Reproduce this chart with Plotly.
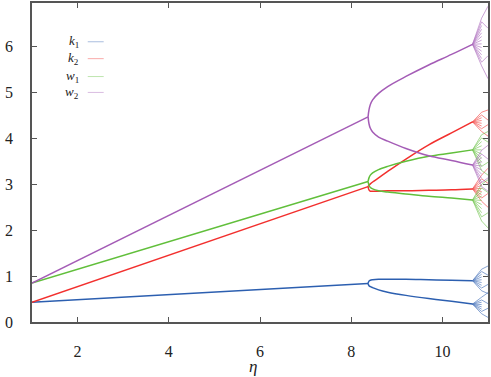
import plotly.graph_objects as go

# ---- data ----
eta_lin = [1.0, 8.37]
k1_lin = [0.43, 0.84]
k2_lin = [0.43, 2.95]
w1_lin = [0.85, 3.06]
w2_lin = [0.85, 4.47]

eta_br = [8.37, 8.39, 8.42, 8.47, 8.6, 8.8, 9.2, 9.7, 10.2, 10.66]
k1_up = [0.84, 0.89, 0.91, 0.92, 0.93, 0.93, 0.93, 0.92, 0.91, 0.90]
k1_lo = [0.84, 0.79, 0.77, 0.75, 0.70, 0.65, 0.58, 0.51, 0.45, 0.39]
k2_up = [2.95, 2.98, 3.01, 3.05, 3.14, 3.28, 3.55, 3.86, 4.12, 4.36]
k2_lo = [2.95, 2.88, 2.85, 2.85, 2.85, 2.86, 2.86, 2.87, 2.88, 2.90]
w1_up = [3.06, 3.14, 3.20, 3.25, 3.32, 3.39, 3.50, 3.61, 3.68, 3.75]
w1_lo = [3.06, 2.98, 2.93, 2.90, 2.86, 2.83, 2.79, 2.74, 2.70, 2.66]
w2_up = [4.47, 4.62, 4.74, 4.84, 4.98, 5.13, 5.35, 5.60, 5.83, 6.05]
w2_lo = [4.47, 4.32, 4.22, 4.14, 4.03, 3.94, 3.78, 3.62, 3.52, 3.42]

# chaotic fans: spokes from the vertex (eta 10.66) out to eta 10.86
eta_fan = [10.66, 10.86]
k1_fan_up = [0.68, 0.74, 0.80, 0.86, 0.92, 0.98, 1.04, 1.10, 1.15]
k1_fan_lo = [0.18, 0.23, 0.28, 0.33, 0.38, 0.43, 0.48, 0.54]
k2_fan_up = [4.15, 4.21, 4.27, 4.33, 4.39, 4.45, 4.51, 4.57]
k2_fan_lo = [2.63, 2.70, 2.77, 2.84, 2.91, 2.98, 3.05, 3.12, 3.20]
w1_fan_up = [3.30, 3.39, 3.48, 3.57, 3.66, 3.75, 3.84, 3.93, 4.01, 4.08]
w1_fan_lo = [2.20, 2.29, 2.38, 2.47, 2.56, 2.65, 2.74, 2.83, 2.92, 3.00]
w2_fan_up = [5.58, 5.66, 5.74, 5.82, 5.90, 5.98, 6.06, 6.14, 6.22, 6.30,
             6.38, 6.46, 6.54, 6.62]
w2_fan_lo = [2.95, 3.04, 3.13, 3.22, 3.31, 3.40, 3.49, 3.58, 3.66, 3.74]

# short tails from the fan rims to the right edge
eta_tail = [10.86, 11.0]
k1_tail = [(1.15, 1.22), (1.10, 1.02), (0.68, 0.62), (0.74, 0.82),
           (0.54, 0.64), (0.48, 0.40), (0.18, 0.10), (0.23, 0.30)]
k2_tail = [(4.57, 4.62), (4.51, 4.40), (4.15, 4.05), (4.21, 4.30),
           (3.20, 3.35), (3.12, 3.02), (2.63, 2.50), (2.70, 2.80)]
w1_tail = [(4.08, 4.15), (4.01, 3.92), (3.30, 3.20), (3.39, 3.48),
           (3.00, 3.10), (2.92, 2.82), (2.20, 2.05), (2.29, 2.38)]
w2_tail = [(6.62, 6.88), (6.54, 6.40), (5.58, 5.30), (5.66, 5.80),
           (3.74, 3.85), (3.66, 3.55), (2.95, 2.85), (3.04, 3.14)]

names = ["<i>k</i><sub>1</sub>", "<i>k</i><sub>2</sub>",
         "<i>w</i><sub>1</sub>", "<i>w</i><sub>2</sub>"]
colors = ["#2c5fb0", "#f2302e", "#61bf3b", "#a45cb6"]

FONT = "Liberation Serif, Times New Roman, Times, serif"

series = [
    (k1_lin, k1_up, k1_lo, k1_fan_up, k1_fan_lo, k1_tail),
    (k2_lin, k2_up, k2_lo, k2_fan_up, k2_fan_lo, k2_tail),
    (w1_lin, w1_up, w1_lo, w1_fan_up, w1_fan_lo, w1_tail),
    (w2_lin, w2_up, w2_lo, w2_fan_up, w2_fan_lo, w2_tail),
]

fig = go.Figure()
for (lin, up, lo, fup, flo, tail), col, nm in zip(series, colors, names):
    fig.add_trace(go.Scatter(x=eta_lin, y=lin, mode="lines",
                             line=dict(color=col, width=1.5), showlegend=False))
    for br in (up, lo):
        fig.add_trace(go.Scatter(x=eta_br, y=br, mode="lines",
                                 line=dict(color=col, width=1.5, shape="spline"),
                                 showlegend=False))
    fx, fy = [], []
    for v0, ends in ((up[-1], fup), (lo[-1], flo)):
        for e in ends:
            fx += [eta_fan[0], eta_fan[1], None]
            fy += [v0, e, None]
    for a, b in tail:
        fx += [eta_tail[0], eta_tail[1], None]
        fy += [a, b, None]
    fig.add_trace(go.Scatter(x=fx, y=fy, mode="lines",
                             line=dict(color=col, width=0.7),
                             opacity=0.8, showlegend=False))

# legend drawn gnuplot style: text then sample line
leg_y = [40, 57, 75, 91]
for nm, col, yp in zip(names, colors, leg_y):
    yy = (322 - yp) / 321
    fig.add_annotation(x=(81 - 32) / 458, y=yy, xref="paper", yref="paper",
                       text=nm, showarrow=False, xanchor="right", yanchor="middle",
                       font=dict(family=FONT, size=13, color="#222"))
    fig.add_shape(type="line", xref="paper", yref="paper",
                  x0=(88 - 32) / 458, x1=(104 - 32) / 458, y0=yy, y1=yy,
                  line=dict(color=col, width=1), opacity=0.4)

fig.add_annotation(x=(254 - 32) / 458, y=-(367 - 322) / 321, xref="paper", yref="paper",
                   text="<i>η</i>", showarrow=False, xanchor="center", yanchor="middle",
                   font=dict(family=FONT, size=17, color="#222"))

axis_common = dict(showline=True, mirror="ticks", linecolor="#555", linewidth=1.5,
                   ticks="inside", ticklen=5, tickcolor="#555", showgrid=False,
                   zeroline=False,
                   tickfont=dict(family=FONT, size=16, color="#222"))
fig.update_xaxes(range=[1, 11], tickvals=[2, 4, 6, 8, 10], ticklabelstandoff=14,
                 **axis_common)
fig.update_yaxes(range=[0, 6.95], tickvals=[0, 1, 2, 3, 4, 5, 6], ticklabelstandoff=14,
                 **axis_common)
fig.update_layout(width=491, height=377, margin=dict(l=32, r=1, t=1, b=55),
                  plot_bgcolor="white", paper_bgcolor="white", showlegend=False,
                  font=dict(family=FONT))
fig.write_html("out.html", post_script="document.body.style.margin='0';",
               config={"displayModeBar": False})
